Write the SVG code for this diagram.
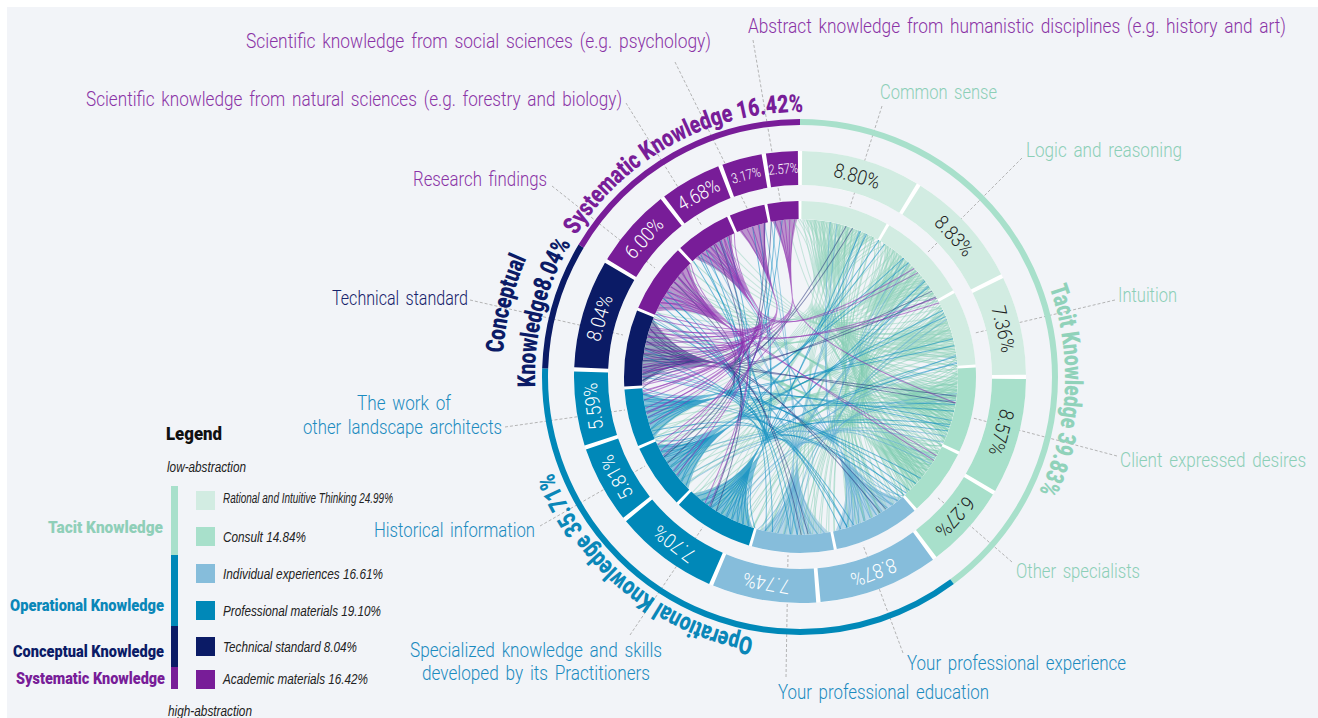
<svg xmlns="http://www.w3.org/2000/svg" width="1318" height="718" viewBox="0 0 1318 718">
<defs>
<style>
.f{font-family:"Liberation Sans",Arial,sans-serif}
.r{font-family:Roboto,"Liberation Sans",sans-serif;font-weight:300}
.b{font-family:Roboto,"Liberation Sans",sans-serif;font-weight:900}
.lab{font-size:20px;word-spacing:3px}
.end{text-anchor:end}
.pu{fill:#8a33a6}.mi{fill:#8ccfb7}.bl{fill:#1b8bbf}.nv{fill:#16226a}
.lead{stroke:#a3a3a3;stroke-width:.8;stroke-dasharray:3 2;fill:none}
.sr{fill:none;stroke-width:34}
.ir{fill:none;stroke-width:18}
.or{fill:none;stroke-width:6}
.pl{font-size:20px;text-anchor:middle}
.pls{font-size:14px}
.dk{fill:#1e1e1e}.wh{fill:#fff}
.cat{font-size:25px;text-anchor:middle}
.ln{fill:none;stroke-width:1}
.la{stroke:#97d6bf;stroke-opacity:.5}
.ld{stroke:#7fcdb1;stroke-opacity:.5}
.lf{stroke:#5aa9d3;stroke-opacity:.55}
.lh{stroke:#0a8cc0;stroke-opacity:.55}
.lk{stroke:#1d2a78;stroke-opacity:.5}
.ll{stroke:#8e2bb0;stroke-opacity:.55}
.fa{fill:#cdeadf;fill-opacity:.75}
.fd{fill:#a8e0cb;fill-opacity:.55}
.ff{fill:#86bddb;fill-opacity:.55}
.fh{fill:#0088b8;fill-opacity:.45}
.fk{fill:#0b1b66;fill-opacity:.4}
.fl{fill:#781d98;fill-opacity:.45}
.lg{font-size:18px;fill:#111}
.it{font-size:14px;font-style:italic;fill:#222}
.lc{font-size:17px;text-anchor:end}
</style>
<path id="cr1" d="M0,265A265,265 0 1,1 0,-265A265,265 0 1,1 0,265"/>
<path id="cr2" d="M0,298A298,298 0 1,1 0,-298A298,298 0 1,1 0,298"/>
</defs>
<rect width="1318" height="718" fill="#fff"/>
<rect x="7" y="7" width="1311" height="711" fill="#f2f4f8"/>

<g id="connectors" transform="translate(800,377)">
<g transform="rotate(15)"><path class="fa" d="M-36.9,-153.6A158,158 0 0,1 36.9,-153.6Q0,-125 0,-80Q0,-125 -36.9,-153.6Z"/></g>
<g transform="rotate(46)"><path class="fa" d="M-38.2,-153.3A158,158 0 0,1 38.2,-153.3Q0,-125 0,-80Q0,-125 -38.2,-153.3Z"/></g>
<g transform="rotate(73.5)"><path class="fa" d="M-30.1,-155.1A158,158 0 0,1 30.1,-155.1Q0,-125 0,-80Q0,-125 -30.1,-155.1Z"/></g>
<g transform="rotate(101)"><path class="fd" d="M-36.9,-153.6A158,158 0 0,1 36.9,-153.6Q0,-125 0,-80Q0,-125 -36.9,-153.6Z"/></g>
<g transform="rotate(127.5)"><path class="fd" d="M-27.4,-155.6A158,158 0 0,1 27.4,-155.6Q0,-125 0,-80Q0,-125 -27.4,-155.6Z"/></g>
<g transform="rotate(153.5)"><path class="ff" d="M-36.9,-153.6A158,158 0 0,1 36.9,-153.6Q0,-125 0,-80Q0,-125 -36.9,-153.6Z"/></g>
<g transform="rotate(182)"><path class="ff" d="M-34.2,-154.3A158,158 0 0,1 34.2,-154.3Q0,-125 0,-80Q0,-125 -34.2,-154.3Z"/></g>
<g transform="rotate(210)"><path class="fh" d="M-34.2,-154.3A158,158 0 0,1 34.2,-154.3Q0,-125 0,-80Q0,-125 -34.2,-154.3Z"/></g>
<g transform="rotate(235)"><path class="fh" d="M-27.4,-155.6A158,158 0 0,1 27.4,-155.6Q0,-125 0,-80Q0,-125 -27.4,-155.6Z"/></g>
<g transform="rotate(256)"><path class="fh" d="M-23.4,-156.3A158,158 0 0,1 23.4,-156.3Q0,-125 0,-80Q0,-125 -23.4,-156.3Z"/></g>
<g transform="rotate(279.5)"><path class="fk" d="M-32.9,-154.5A158,158 0 0,1 32.9,-154.5Q0,-125 0,-80Q0,-125 -32.9,-154.5Z"/></g>
<g transform="rotate(305)"><path class="fl" d="M-28.8,-155.4A158,158 0 0,1 28.8,-155.4Q0,-125 0,-80Q0,-125 -28.8,-155.4Z"/></g>
<g transform="rotate(326.5)"><path class="fl" d="M-22,-156.5A158,158 0 0,1 22,-156.5Q0,-125 0,-80Q0,-125 -22,-156.5Z"/></g>
<g transform="rotate(342.5)"><path class="fl" d="M-13.8,-157.4A158,158 0 0,1 13.8,-157.4Q0,-125 0,-80Q0,-125 -13.8,-157.4Z"/></g>
<g transform="rotate(354.5)"><path class="fl" d="M-12.4,-157.5A158,158 0 0,1 12.4,-157.5Q0,-125 0,-80Q0,-125 -12.4,-157.5Z"/></g>

<g transform="rotate(15)"><path id="LA" class="ln la" d="M-33,-154.5Q0,-125 0,-80T40.9,152.6M-27,-155.7Q0,-125 0,-80T111.7,111.7M-21,-156.6Q0,-125 0,-80T148.5,54M-15,-157.3Q0,-125 0,-80T157.4,13.8M-9,-157.7Q0,-125 0,-80T157.4,-13.8M-3,-158Q0,-125 0,-80T143.2,-66.8M3,-158Q0,-125 0,-80T129.4,-90.6M9,-157.7Q0,-125 0,-80T101.6,-121M15,-157.3Q0,-125 0,-80T66.8,-143.2M21,-156.6Q0,-125 0,-80T-152.6,-40.9M27,-155.7Q0,-125 0,-80T-129.4,90.6M33,-154.5Q0,-125 0,-80T-54,148.5"/><use href="#LA" transform="rotate(-3)"/><use href="#LA" transform="rotate(3)"/><use href="#LA" transform="rotate(-6)"/><use href="#LA" transform="rotate(6)"/></g>
<g transform="rotate(46)"><path id="LB" class="ln la" d="M-34,-154.3Q0,-125 0,-80T0,158M-28,-155.5Q0,-125 0,-80T90.6,129.4M-22,-156.5Q0,-125 0,-80T148.5,54M-16,-157.2Q0,-125 0,-80T157.4,-13.8M-10,-157.7Q0,-125 0,-80T148.5,-54M-4,-158Q0,-125 0,-80T129.4,-90.6M4,-158Q0,-125 0,-80T101.6,-121M10,-157.7Q0,-125 0,-80T79,-136.8M16,-157.2Q0,-125 0,-80T-66.8,-143.2M22,-156.5Q0,-125 0,-80T-111.7,-111.7M28,-155.5Q0,-125 0,-80T-155.6,-27.4M34,-154.3Q0,-125 0,-80T-129.4,90.6"/><use href="#LB" transform="rotate(-3)"/><use href="#LB" transform="rotate(3)"/><use href="#LB" transform="rotate(-6)"/><use href="#LB" transform="rotate(6)"/></g>
<g transform="rotate(73.5)"><path id="LC" class="ln la" d="M-27,-155.7Q0,-125 0,-80T27.4,155.6M-21,-156.6Q0,-125 0,-80T121,101.6M-15,-157.3Q0,-125 0,-80T155.6,27.4M-9,-157.7Q0,-125 0,-80T148.5,-54M-3,-158Q0,-125 0,-80T121,-101.6M3,-158Q0,-125 0,-80T90.6,-129.4M9,-157.7Q0,-125 0,-80T54,-148.5M15,-157.3Q0,-125 0,-80T-66.8,-143.2M21,-156.6Q0,-125 0,-80T-101.6,-121M27,-155.7Q0,-125 0,-80T-143.2,-66.8"/><use href="#LC" transform="rotate(-3)"/><use href="#LC" transform="rotate(3)"/><use href="#LC" transform="rotate(-6)"/><use href="#LC" transform="rotate(6)"/></g>
<g transform="rotate(101)"><path id="LD" class="ln ld" d="M-33,-154.5Q0,-125 0,-80T79,136.8M-26,-155.8Q0,-125 0,-80T143.2,66.8M-20,-156.7Q0,-125 0,-80T157.4,-13.8M-13,-157.5Q0,-125 0,-80T129.4,-90.6M-7,-157.8Q0,-125 0,-80T90.6,-129.4M0,-158Q0,-125 0,-80T66.8,-143.2M7,-157.8Q0,-125 0,-80T-54,-148.5M13,-157.5Q0,-125 0,-80T-90.6,-129.4M20,-156.7Q0,-125 0,-80T-136.8,-79M26,-155.8Q0,-125 0,-80T-158,0M33,-154.5Q0,-125 0,-80T-79,136.8"/><use href="#LD" transform="rotate(-3)"/><use href="#LD" transform="rotate(3)"/><use href="#LD" transform="rotate(-6)"/><use href="#LD" transform="rotate(6)"/></g>
<g transform="rotate(127.5)"><path id="LE" class="ln ld" d="M-24,-156.2Q0,-125 0,-80T54,148.5M-18,-157Q0,-125 0,-80T152.6,40.9M-12,-157.5Q0,-125 0,-80T148.5,-54M-6,-157.9Q0,-125 0,-80T111.7,-111.7M0,-158Q0,-125 0,-80T66.8,-143.2M6,-157.9Q0,-125 0,-80T-40.9,-152.6M12,-157.5Q0,-125 0,-80T-79,-136.8M18,-157Q0,-125 0,-80T-152.6,-40.9M24,-156.2Q0,-125 0,-80T-152.6,40.9"/><use href="#LE" transform="rotate(-3)"/><use href="#LE" transform="rotate(3)"/><use href="#LE" transform="rotate(-5)"/><use href="#LE" transform="rotate(5)"/></g>
<g transform="rotate(153.5)"><path id="LF" class="ln lf" d="M-33,-154.5Q0,-125 0,-80T13.8,157.4M-26,-155.8Q0,-125 0,-80T79,136.8M-20,-156.7Q0,-125 0,-80T136.8,79M-13,-157.5Q0,-125 0,-80T157.4,-13.8M-7,-157.8Q0,-125 0,-80T129.4,-90.6M0,-158Q0,-125 0,-80T79,-136.8M7,-157.8Q0,-125 0,-80T-79,-136.8M13,-157.5Q0,-125 0,-80T-129.4,-90.6M20,-156.7Q0,-125 0,-80T-157.4,-13.8M26,-155.8Q0,-125 0,-80T-148.5,54M33,-154.5Q0,-125 0,-80T-101.6,121"/><use href="#LF" transform="rotate(-2.5)"/></g>
<g transform="rotate(182)"><path id="LG" class="ln lf" d="M-30,-155.1Q0,-125 0,-80T40.9,152.6M-23,-156.3Q0,-125 0,-80T101.6,121M-17,-157.1Q0,-125 0,-80T148.5,54M-10,-157.7Q0,-125 0,-80T155.6,-27.4M-3,-158Q0,-125 0,-80T111.7,-111.7M3,-158Q0,-125 0,-80T-101.6,-121M10,-157.7Q0,-125 0,-80T-148.5,-54M17,-157.1Q0,-125 0,-80T-155.6,27.4M23,-156.3Q0,-125 0,-80T-121,101.6M30,-155.1Q0,-125 0,-80T-54,148.5"/><use href="#LG" transform="rotate(2.5)"/></g>
<g transform="rotate(210)"><path id="LH" class="ln lh" d="M-30,-155.1Q0,-125 0,-80T13.8,157.4M-24,-156.2Q0,-125 0,-80T111.7,111.7M-18,-157Q0,-125 0,-80T148.5,54M-12,-157.5Q0,-125 0,-80T158,0M-6,-157.9Q0,-125 0,-80T148.5,-54M0,-158Q0,-125 0,-80T101.6,-121M6,-157.9Q0,-125 0,-80T-111.7,-111.7M12,-157.5Q0,-125 0,-80T-148.5,-54M18,-157Q0,-125 0,-80T-155.6,27.4M24,-156.2Q0,-125 0,-80T-129.4,90.6M30,-155.1Q0,-125 0,-80T-66.8,143.2"/><use href="#LH" transform="rotate(-2.5)"/></g>
<g transform="rotate(235)"><path id="LI" class="ln lh" d="M-24,-156.2Q0,-125 0,-80T66.8,143.2M-18,-157Q0,-125 0,-80T157.4,13.8M-12,-157.5Q0,-125 0,-80T143.2,-66.8M-6,-157.9Q0,-125 0,-80T90.6,-129.4M0,-158Q0,-125 0,-80T-111.7,-111.7M6,-157.9Q0,-125 0,-80T-152.6,-40.9M12,-157.5Q0,-125 0,-80T-152.6,40.9M18,-157Q0,-125 0,-80T-111.7,111.7M24,-156.2Q0,-125 0,-80T-27.4,155.6"/><use href="#LI" transform="rotate(2.5)"/></g>
<g transform="rotate(256)"><path id="LJ" class="ln lh" d="M-21,-156.6Q0,-125 0,-80T0,158M-15,-157.3Q0,-125 0,-80T90.6,129.4M-9,-157.7Q0,-125 0,-80T157.4,13.8M-3,-158Q0,-125 0,-80T143.2,-66.8M3,-158Q0,-125 0,-80T90.6,-129.4M9,-157.7Q0,-125 0,-80T-152.6,-40.9M15,-157.3Q0,-125 0,-80T-136.8,79M21,-156.6Q0,-125 0,-80T-79,136.8"/><use href="#LJ" transform="rotate(2.5)"/></g>
<g transform="rotate(279.5)"><path id="LK" class="ln lk" d="M-30,-155.1Q0,-125 0,-80T0,158M-23,-156.3Q0,-125 0,-80T101.6,121M-17,-157.1Q0,-125 0,-80T155.6,27.4M-10,-157.7Q0,-125 0,-80T148.5,-54M-3,-158Q0,-125 0,-80T121,-101.6M3,-158Q0,-125 0,-80T79,-136.8M10,-157.7Q0,-125 0,-80T-101.6,-121M17,-157.1Q0,-125 0,-80T-143.2,-66.8M23,-156.3Q0,-125 0,-80T-155.6,27.4M30,-155.1Q0,-125 0,-80T-121,101.6"/><use href="#LK" transform="rotate(-2.5)"/></g>
<g transform="rotate(305)"><path id="LL" class="ln ll" d="M-25,-156Q0,-125 0,-80T13.8,157.4M-19,-156.9Q0,-125 0,-80T143.2,66.8M-12,-157.5Q0,-125 0,-80T-54,-148.5M-6,-157.9Q0,-125 0,-80T-66.8,-143.2M0,-158Q0,-125 0,-80T-90.6,-129.4M6,-157.9Q0,-125 0,-80T-101.6,-121M12,-157.5Q0,-125 0,-80T-121,-101.6M19,-156.9Q0,-125 0,-80T-143.2,-66.8M25,-156Q0,-125 0,-80T-158,0"/><use href="#LL" transform="rotate(2)"/></g>
<g transform="rotate(326.5)"><path id="LM" class="ln ll" d="M-19,-156.9Q0,-125 0,-80T155.6,-27.4M-13,-157.5Q0,-125 0,-80T-90.6,-129.4M-8,-157.8Q0,-125 0,-80T-101.6,-121M-3,-158Q0,-125 0,-80T-121,-101.6M3,-158Q0,-125 0,-80T-129.4,-90.6M8,-157.8Q0,-125 0,-80T-143.2,-66.8M13,-157.5Q0,-125 0,-80T-148.5,-54M19,-156.9Q0,-125 0,-80T-157.4,13.8"/><use href="#LM" transform="rotate(2)"/></g>
<g transform="rotate(342.5)"><path id="LN" class="ln ll" d="M-12,-157.5Q0,-125 0,-80T-129.4,-90.6M-6,-157.9Q0,-125 0,-80T-136.8,-79M0,-158Q0,-125 0,-80T-148.5,-54M6,-157.9Q0,-125 0,-80T-152.6,-40.9M12,-157.5Q0,-125 0,-80T-158,0"/></g>
<g transform="rotate(354.5)"><path id="LO" class="ln ll" d="M-10,-157.7Q0,-125 0,-80T152.6,40.9M-5,-157.9Q0,-125 0,-80T-148.5,-54M0,-158Q0,-125 0,-80T-155.6,-27.4M5,-157.9Q0,-125 0,-80T-158,0M10,-157.7Q0,-125 0,-80T-148.5,54"/></g>
</g>

<g id="ring-base" fill="none" stroke="#fff">
<circle cx="800" cy="377" r="209" stroke-width="34"/>
<circle cx="800" cy="377" r="167" stroke-width="18"/>
</g>

<g id="n-common-sense">
<line class="lead" x1="882" y1="106" x2="850" y2="207"/>
<circle class="sr" stroke="#d2ece2" r="209" pathLength="360" stroke-dasharray="30.58 360" stroke-dashoffset="-0.55" transform="translate(800,377) rotate(-90)"/>
<circle class="ir" stroke="#d2ece2" r="167" pathLength="360" stroke-dasharray="29 360" stroke-dashoffset="-0.5" transform="translate(800,377) rotate(-90)"/>
<text class="r pl dk" transform="translate(800,377) rotate(15.84) translate(0,-209)" dy="7" textLength="47" lengthAdjust="spacingAndGlyphs">8.80%</text>
<text class="r lab mi" x="880" y="99" textLength="117" lengthAdjust="spacingAndGlyphs">Common sense</text>
</g>
<g id="n-logic">
<line class="lead" x1="1022" y1="158" x2="927" y2="253"/>
<circle class="sr" stroke="#d2ece2" r="209" pathLength="360" stroke-dasharray="30.69 360" stroke-dashoffset="-32.23" transform="translate(800,377) rotate(-90)"/>
<circle class="ir" stroke="#d2ece2" r="167" pathLength="360" stroke-dasharray="30 360" stroke-dashoffset="-30.5" transform="translate(800,377) rotate(-90)"/>
<text class="r pl dk" transform="translate(800,377) rotate(47.57) translate(0,-209)" dy="7" textLength="47" lengthAdjust="spacingAndGlyphs">8.83%</text>
<text class="r lab mi" x="1026" y="157" textLength="156" lengthAdjust="spacingAndGlyphs">Logic and reasoning</text>
</g>
<g id="n-intuition">
<line class="lead" x1="1115" y1="300" x2="975" y2="333"/>
<circle class="sr" stroke="#d2ece2" r="209" pathLength="360" stroke-dasharray="25.39 360" stroke-dashoffset="-64.02" transform="translate(800,377) rotate(-90)"/>
<circle class="ir" stroke="#d2ece2" r="167" pathLength="360" stroke-dasharray="24.4 360" stroke-dashoffset="-61.5" transform="translate(800,377) rotate(-90)"/>
<text class="r pl dk" transform="translate(800,377) rotate(76.72) translate(0,-209)" dy="7" textLength="47" lengthAdjust="spacingAndGlyphs">7.36%</text>
<text class="r lab mi" x="1118" y="302" textLength="59" lengthAdjust="spacingAndGlyphs">Intuition</text>
</g>
<g id="n-client">
<line class="lead" x1="1117" y1="456" x2="973" y2="418"/>
<circle class="sr" stroke="#a8e0cb" r="209" pathLength="360" stroke-dasharray="29.76 360" stroke-dashoffset="-90.51" transform="translate(800,377) rotate(-90)"/>
<circle class="ir" stroke="#a8e0cb" r="167" pathLength="360" stroke-dasharray="28.2 360" stroke-dashoffset="-86.9" transform="translate(800,377) rotate(-90)"/>
<text class="r pl dk" transform="translate(800,377) rotate(105.39) translate(0,-209)" dy="7" textLength="47" lengthAdjust="spacingAndGlyphs">8.57%</text>
<text class="r lab mi end" transform="translate(1306,467) scale(0.83,1)" textLength="224" lengthAdjust="spacingAndGlyphs">Client expressed desires</text>
</g>
<g id="n-other-specialists">
<line class="lead" x1="1012" y1="562" x2="937" y2="497"/>
<circle class="sr" stroke="#a8e0cb" r="209" pathLength="360" stroke-dasharray="21.47 360" stroke-dashoffset="-121.37" transform="translate(800,377) rotate(-90)"/>
<circle class="ir" stroke="#a8e0cb" r="167" pathLength="360" stroke-dasharray="22.3 360" stroke-dashoffset="-116.1" transform="translate(800,377) rotate(-90)"/>
<text class="r pl dk" transform="translate(800,377) rotate(132.1) translate(0,-209)" dy="7" textLength="47" lengthAdjust="spacingAndGlyphs">6.27%</text>
<text class="r lab mi" x="1016" y="578" textLength="124" lengthAdjust="spacingAndGlyphs">Other specialists</text>
</g>
<g id="n-professional-experience">
<line class="lead" x1="903" y1="653" x2="863" y2="545"/>
<circle class="sr" stroke="#86bddb" r="209" pathLength="360" stroke-dasharray="30.83 360" stroke-dashoffset="-143.94" transform="translate(800,377) rotate(-90)"/>
<circle class="ir" stroke="#86bddb" r="167" pathLength="360" stroke-dasharray="28.5 360" stroke-dashoffset="-139.4" transform="translate(800,377) rotate(-90)"/>
<text class="r pl wh" transform="translate(800,377) rotate(159.35) translate(0,-209)" dy="7" textLength="47" lengthAdjust="spacingAndGlyphs">8.87%</text>
<text class="r lab bl" x="907" y="670" textLength="219" lengthAdjust="spacingAndGlyphs">Your professional experience</text>
</g>
<g id="n-professional-education">
<line class="lead" x1="786" y1="677" x2="788" y2="555"/>
<circle class="sr" stroke="#86bddb" r="209" pathLength="360" stroke-dasharray="26.76 360" stroke-dashoffset="-175.87" transform="translate(800,377) rotate(-90)"/>
<circle class="ir" stroke="#86bddb" r="167" pathLength="360" stroke-dasharray="27 360" stroke-dashoffset="-168.9" transform="translate(800,377) rotate(-90)"/>
<text class="r pl wh" transform="translate(800,377) rotate(189.25) translate(0,-209)" dy="7" textLength="47" lengthAdjust="spacingAndGlyphs">7.74%</text>
<text class="r lab bl" x="778" y="699" textLength="211" lengthAdjust="spacingAndGlyphs">Your professional education</text>
</g>
<g id="n-specialized">
<line class="lead" x1="630" y1="635" x2="703" y2="527"/>
<circle class="sr" stroke="#0088b8" r="209" pathLength="360" stroke-dasharray="26.62 360" stroke-dashoffset="-203.73" transform="translate(800,377) rotate(-90)"/>
<circle class="ir" stroke="#0088b8" r="167" pathLength="360" stroke-dasharray="26.6 360" stroke-dashoffset="-196.9" transform="translate(800,377) rotate(-90)"/>
<text class="r pl wh" transform="translate(800,377) rotate(217.04) translate(0,-209)" dy="7" textLength="47" lengthAdjust="spacingAndGlyphs">7.70%</text>
<text class="r lab bl" x="410" y="657" textLength="252" lengthAdjust="spacingAndGlyphs">Specialized knowledge and skills</text>
<text class="r lab bl" x="422" y="680" textLength="228" lengthAdjust="spacingAndGlyphs">developed by its Practitioners</text>
</g>
<g id="n-historical">
<line class="lead" x1="540" y1="526" x2="645" y2="466"/>
<circle class="sr" stroke="#0088b8" r="209" pathLength="360" stroke-dasharray="19.82 360" stroke-dashoffset="-231.45" transform="translate(800,377) rotate(-90)"/>
<circle class="ir" stroke="#0088b8" r="167" pathLength="360" stroke-dasharray="21.4 360" stroke-dashoffset="-224.5" transform="translate(800,377) rotate(-90)"/>
<text class="r pl wh" transform="translate(800,377) rotate(241.36) translate(0,-209)" dy="7" textLength="47" lengthAdjust="spacingAndGlyphs">5.81%</text>
<text class="r lab bl" x="374" y="537" textLength="161" lengthAdjust="spacingAndGlyphs">Historical information</text>
</g>
<g id="n-work-of-others">
<line class="lead" x1="505" y1="427" x2="625" y2="410"/>
<circle class="sr" stroke="#0088b8" r="209" pathLength="360" stroke-dasharray="19.02 360" stroke-dashoffset="-252.37" transform="translate(800,377) rotate(-90)"/>
<circle class="ir" stroke="#0088b8" r="167" pathLength="360" stroke-dasharray="19 360" stroke-dashoffset="-246.9" transform="translate(800,377) rotate(-90)"/>
<text class="r pl wh" transform="translate(800,377) rotate(261.88) translate(0,-209)" dy="7" textLength="47" lengthAdjust="spacingAndGlyphs">5.59%</text>
<text class="r lab bl" x="357" y="410" textLength="94" lengthAdjust="spacingAndGlyphs">The work of</text>
<text class="r lab bl" x="303" y="434" textLength="199" lengthAdjust="spacingAndGlyphs">other landscape architects</text>
</g>
<g id="n-technical-standard">
<line class="lead" x1="470" y1="300" x2="623" y2="335"/>
<circle class="sr" stroke="#0b1b66" r="209" pathLength="360" stroke-dasharray="27.85 360" stroke-dashoffset="-272.49" transform="translate(800,377) rotate(-90)"/>
<circle class="ir" stroke="#0b1b66" r="167" pathLength="360" stroke-dasharray="25.3 360" stroke-dashoffset="-266.9" transform="translate(800,377) rotate(-90)"/>
<text class="r pl wh" transform="translate(800,377) rotate(286.4) translate(0,-209)" dy="7" textLength="47" lengthAdjust="spacingAndGlyphs">8.04%</text>
<text class="r lab nv" x="332" y="305" textLength="136" lengthAdjust="spacingAndGlyphs">Technical standard</text>
</g>
<g id="n-research">
<line class="lead" x1="552" y1="186" x2="655" y2="268"/>
<circle class="sr" stroke="#781d98" r="209" pathLength="360" stroke-dasharray="20.5 360" stroke-dashoffset="-301.44" transform="translate(800,377) rotate(-90)"/>
<circle class="ir" stroke="#781d98" r="167" pathLength="360" stroke-dasharray="22.9 360" stroke-dashoffset="-293.2" transform="translate(800,377) rotate(-90)"/>
<text class="r pl wh" transform="translate(800,377) rotate(311.69) translate(0,-209)" dy="7" textLength="47" lengthAdjust="spacingAndGlyphs">6.00%</text>
<text class="r lab pu" x="413" y="186" textLength="134" lengthAdjust="spacingAndGlyphs">Research findings</text>
</g>
<g id="n-natural-sciences">
<line class="lead" x1="626" y1="103" x2="702" y2="226"/>
<circle class="sr" stroke="#781d98" r="209" pathLength="360" stroke-dasharray="15.75 360" stroke-dashoffset="-323.04" transform="translate(800,377) rotate(-90)"/>
<circle class="ir" stroke="#781d98" r="167" pathLength="360" stroke-dasharray="18.4 360" stroke-dashoffset="-317.1" transform="translate(800,377) rotate(-90)"/>
<text class="r pl wh" transform="translate(800,377) rotate(330.9) translate(0,-209)" dy="7" textLength="45" lengthAdjust="spacingAndGlyphs">4.68%</text>
<text class="r lab pu" x="86" y="106" textLength="536" lengthAdjust="spacingAndGlyphs">Scientific knowledge from natural sciences (e.g. forestry and biology)</text>
</g>
<g id="n-social-sciences">
<line class="lead" x1="675" y1="62" x2="748" y2="210"/>
<circle class="sr" stroke="#781d98" r="209" pathLength="360" stroke-dasharray="10.31 360" stroke-dashoffset="-339.89" transform="translate(800,377) rotate(-90)"/>
<circle class="ir" stroke="#781d98" r="167" pathLength="360" stroke-dasharray="11.8 360" stroke-dashoffset="-336.5" transform="translate(800,377) rotate(-90)"/>
<text class="r pl pls wh" transform="translate(800,377) rotate(345) translate(0,-209)" dy="5" textLength="30" lengthAdjust="spacingAndGlyphs">3.17%</text>
<text class="r lab pu" x="246" y="48" textLength="465" lengthAdjust="spacingAndGlyphs">Scientific knowledge from social sciences (e.g. psychology)</text>
</g>
<g id="n-humanistic">
<line class="lead" x1="753" y1="40" x2="781" y2="205"/>
<circle class="sr" stroke="#781d98" r="209" pathLength="360" stroke-dasharray="8.15 360" stroke-dashoffset="-351.3" transform="translate(800,377) rotate(-90)"/>
<circle class="ir" stroke="#781d98" r="167" pathLength="360" stroke-dasharray="10.2 360" stroke-dashoffset="-349.3" transform="translate(800,377) rotate(-90)"/>
<text class="r pl pls wh" transform="translate(800,377) rotate(355.4) translate(0,-209)" dy="5" textLength="30" lengthAdjust="spacingAndGlyphs">2.57%</text>
<text class="r lab pu end" transform="translate(1286,33) scale(0.85,1)" textLength="633" lengthAdjust="spacingAndGlyphs">Abstract knowledge from humanistic disciplines (e.g. history and art)</text>
</g>

<g id="cat-tacit" transform="translate(800,377)">
<circle class="or" stroke="#a8e0cb" r="255" pathLength="360" stroke-dasharray="143.39 360" transform="rotate(-90)"/>
<text class="b cat" fill="#90d2ba"><textPath href="#cr1" startOffset="75.83%" textLength="210" lengthAdjust="spacingAndGlyphs">Tacit Knowledge 39.83%</textPath></text>
</g>
<g id="cat-operational" transform="translate(800,377)">
<circle class="or" stroke="#0088b8" r="255" pathLength="360" stroke-dasharray="128.55 360" stroke-dashoffset="-143.39" transform="rotate(-90)"/>
<text class="b cat" fill="#0a87b8"><textPath href="#cr1" startOffset="10.97%" textLength="272" lengthAdjust="spacingAndGlyphs">Operational Knowledge 35.71%</textPath></text>
</g>
<g id="cat-conceptual" transform="translate(800,377)">
<circle class="or" stroke="#0b1b66" r="255" pathLength="360" stroke-dasharray="28.95 360" stroke-dashoffset="-271.94" transform="rotate(-90)"/>
<text class="b cat" fill="#0b1b66"><textPath href="#cr1" startOffset="28.9%" textLength="150" lengthAdjust="spacingAndGlyphs">Knowledge8.04%</textPath></text>
<text class="b cat" fill="#0b1b66"><textPath href="#cr2" startOffset="28.9%" textLength="98" lengthAdjust="spacingAndGlyphs">Conceptual</textPath></text>
</g>
<g id="cat-systematic" transform="translate(800,377)">
<circle class="or" stroke="#781d98" r="255" pathLength="360" stroke-dasharray="59.11 360" stroke-dashoffset="-300.89" transform="rotate(-90)"/>
<text class="b cat" fill="#781d98"><textPath href="#cr1" startOffset="42.08%" textLength="270" lengthAdjust="spacingAndGlyphs">Systematic Knowledge 16.42%</textPath></text>
</g>

<g id="legend">
<text class="b lg" x="166" y="440" textLength="56" lengthAdjust="spacingAndGlyphs">Legend</text>
<text class="f it" x="167" y="472" textLength="79" lengthAdjust="spacingAndGlyphs">low-abstraction</text>
<rect x="171" y="486" width="7" height="69" fill="#a8e0cb"/>
<rect x="171" y="555" width="7" height="71" fill="#0088b8"/>
<rect x="171" y="626" width="7" height="41" fill="#0b1b66"/>
<rect x="171" y="667" width="7" height="22" fill="#781d98"/>
<text class="b lc" x="163" y="533" fill="#8fcfb8" textLength="115" lengthAdjust="spacingAndGlyphs">Tacit Knowledge</text>
<text class="b lc" x="164" y="611" fill="#0a87b8" textLength="154" lengthAdjust="spacingAndGlyphs">Operational Knowledge</text>
<text class="b lc" x="164" y="657" fill="#0b1b66" textLength="151" lengthAdjust="spacingAndGlyphs">Conceptual Knowledge</text>
<text class="b lc" x="165" y="684" fill="#781d98" textLength="149" lengthAdjust="spacingAndGlyphs">Systematic Knowledge</text>
<rect x="196" y="491" width="19" height="19" fill="#d2ece2"/>
<rect x="196" y="527" width="19" height="19" fill="#a8e0cb"/>
<rect x="196" y="564" width="19" height="19" fill="#86bddb"/>
<rect x="196" y="601" width="19" height="19" fill="#0088b8"/>
<rect x="196" y="637" width="19" height="19" fill="#0b1b66"/>
<rect x="196" y="670" width="19" height="19" fill="#781d98"/>
<text class="f it" x="223" y="503" textLength="170" lengthAdjust="spacingAndGlyphs">Rational and Intuitive Thinking 24.99%</text>
<text class="f it" x="223" y="542" textLength="83" lengthAdjust="spacingAndGlyphs">Consult 14.84%</text>
<text class="f it" x="223" y="579" textLength="160" lengthAdjust="spacingAndGlyphs">Individual experiences 16.61%</text>
<text class="f it" x="223" y="616" textLength="158" lengthAdjust="spacingAndGlyphs">Professional materials 19.10%</text>
<text class="f it" x="223" y="652" textLength="134" lengthAdjust="spacingAndGlyphs">Technical standard 8.04%</text>
<text class="f it" x="223" y="684" textLength="145" lengthAdjust="spacingAndGlyphs">Academic materials 16.42%</text>
<text class="f it" x="168" y="716" textLength="84" lengthAdjust="spacingAndGlyphs">high-abstraction</text>
</g>
</svg>
